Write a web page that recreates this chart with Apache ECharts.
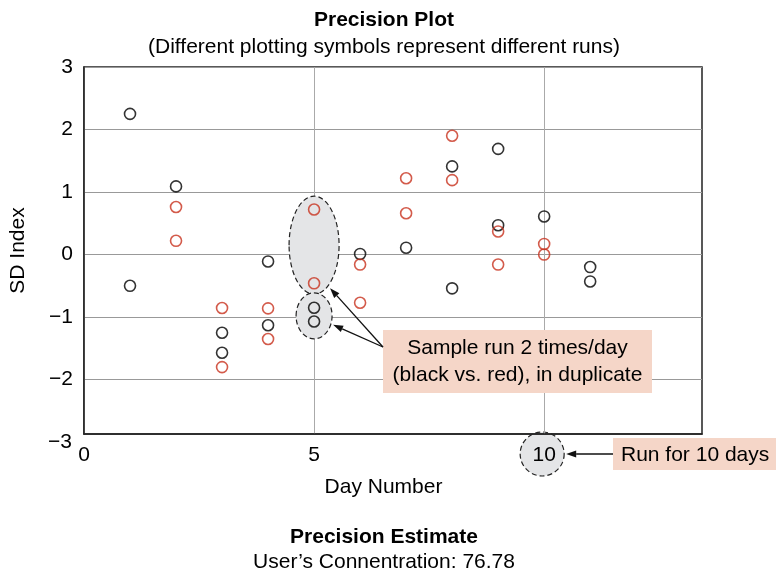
<!DOCTYPE html>
<html><head><meta charset="utf-8">
<script src="https://cdn.jsdelivr.net/npm/echarts@6/dist/echarts.min.js"></script>
<style>html,body{margin:0;padding:0;background:#fff}#c{width:776px;height:571px}</style>
</head><body><div id="c"></div>
<script>
// ---- data ----
const blackDays   = [1, 1, 2, 3, 3, 4, 4, 5, 5, 6, 7, 8, 8, 9, 9, 10, 11, 11];
const blackValues = [2.25, -0.50, 1.09, -1.25, -1.57, -0.11, -1.13, -0.85, -1.07, 0.01, 0.11, 1.41, -0.54, 1.69, 0.47, 0.61, -0.20, -0.43];
const redDays     = [2, 2, 3, 3, 4, 4, 5, 5, 6, 6, 7, 7, 8, 8, 9, 9, 10, 10];
const redValues   = [0.76, 0.22, -0.855, -1.80, -0.86, -1.35, 0.72, -0.46, -0.16, -0.77, 1.22, 0.66, 1.90, 1.19, 0.37, -0.16, 0.17, 0.00];
const yTickValues = [-2, -1, 0, 1, 2, 3];
const xTickValues = [0, 5, 10];
const titleText = 'Precision Plot';
const subtitleText = '(Different plotting symbols represent different runs)';
const footTitle = 'Precision Estimate';
const footText = 'User\u2019s Connentration: 76.78';

const FONT = '"Liberation Sans", Arial, Helvetica, sans-serif';
const FS = 21;
const TXT = '#000';
const CX = 379;
const chart = echarts.init(document.getElementById('c'), null, {renderer: 'canvas'});
const fmt = v => String(v).replace('-', '\u2212');

const option = {
  animation: false,
  backgroundColor: '#fff',
  textStyle: {fontFamily: FONT, color: TXT},
  title: [
    {text: titleText, left: CX, textAlign: 'center', top: 5, textStyle: {fontFamily: FONT, fontSize: FS, fontWeight: 'bold', color: TXT}},
    {text: subtitleText, left: CX, textAlign: 'center', top: 32, textStyle: {fontFamily: FONT, fontSize: FS, fontWeight: 'normal', color: TXT}},
    {text: footTitle, left: CX, textAlign: 'center', top: 522, textStyle: {fontFamily: FONT, fontSize: FS, fontWeight: 'bold', color: TXT}},
    {text: footText, left: CX, textAlign: 'center', top: 547, textStyle: {fontFamily: FONT, fontSize: FS, fontWeight: 'normal', color: TXT}}
  ],
  grid: {left: 83, right: 74, top: 67, bottom: 137, show: true, borderColor: '#222', borderWidth: 1.5, backgroundColor: 'transparent'},
  xAxis: {
    type: 'value', min: 0, max: 13.43,
    name: 'Day Number', nameLocation: 'middle', nameGap: 43,
    nameTextStyle: {fontFamily: FONT, fontSize: FS, color: TXT, padding: [0, 19, 0, 0]},
    axisLine: {show: true, onZero: false, lineStyle: {color: '#222', width: 1.5}},
    axisTick: {show: false, customValues: xTickValues},
    axisLabel: {customValues: xTickValues, fontFamily: FONT, fontSize: FS, color: TXT, margin: 11},
    splitLine: {show: true, lineStyle: {color: '#aaa', width: 1}}
  },
  yAxis: {
    type: 'value', min: -2.87, max: 3,
    name: 'SD Index', nameLocation: 'middle', nameGap: 55,
    nameTextStyle: {fontFamily: FONT, fontSize: FS, color: TXT},
    axisLine: {show: true, onZero: false, lineStyle: {color: '#222', width: 1.5}},
    axisTick: {show: false, customValues: yTickValues},
    axisLabel: {customValues: yTickValues, fontFamily: FONT, fontSize: FS, color: TXT, margin: 11, formatter: fmt},
    splitLine: {show: true, lineStyle: {color: '#999', width: 1}}
  },
  series: [
    {type: 'scatter', name: 'black', z: 5, symbol: 'circle', symbolSize: 11,
     itemStyle: {color: 'rgba(0,0,0,0)', borderColor: '#000', borderWidth: 1.6},
     data: blackDays.map((d, i) => [d, blackValues[i]])},
    {type: 'scatter', name: 'red', z: 5, symbol: 'circle', symbolSize: 11,
     itemStyle: {color: 'rgba(0,0,0,0)', borderColor: '#c8321e', borderWidth: 1.6},
     data: redDays.map((d, i) => [d, redValues[i]])}
  ]
};
chart.setOption(option);

// ---- annotations ----
function px(x, y) { return chart.convertToPixel({gridIndex: 0}, [x, y]); }
function arrow(x1, y1, x2, y2) {
  const ang = Math.atan2(y2 - y1, x2 - x1), L = 10, W = 3.5;
  const bx = x2 - L * Math.cos(ang), by = y2 - L * Math.sin(ang);
  const nx = -Math.sin(ang) * W, ny = Math.cos(ang) * W;
  return [
    {type: 'line', z: 20, shape: {x1, y1, x2: bx, y2: by}, style: {stroke: '#111', lineWidth: 1.3}},
    {type: 'polygon', z: 20, shape: {points: [[x2, y2], [bx + nx, by + ny], [bx - nx, by - ny]]}, style: {fill: '#111'}}
  ];
}
const big = px(5, 0.15), small = px(5, -0.98), ten = px(10, -2.87);
const ellStyle = {fill: '#e4e5e7', stroke: '#222', lineWidth: 1.2, lineDash: [5, 3]};
const boxX = 383, boxY = 330, boxW = 269, boxH = 63;
const F = FS + 'px ' + FONT;
const g = [
  {type: 'ellipse', z: 1, shape: {cx: big[0], cy: big[1], rx: 25, ry: 49}, style: ellStyle},
  {type: 'ellipse', z: 1, shape: {cx: small[0], cy: small[1], rx: 18, ry: 23}, style: ellStyle},
  {type: 'circle', z: -5, shape: {cx: ten[0] - 2, cy: ten[1] + 20, r: 22}, style: ellStyle},
  {type: 'rect', z: 15, shape: {x: boxX, y: boxY, width: boxW, height: boxH}, style: {fill: '#f5d6c8'}},
  {type: 'text', z: 16, style: {text: 'Sample run 2 times/day', x: boxX + boxW / 2, y: boxY + 18, textAlign: 'center', textVerticalAlign: 'middle', font: F, fill: TXT}},
  {type: 'text', z: 16, style: {text: '(black vs. red), in duplicate', x: boxX + boxW / 2, y: boxY + 45, textAlign: 'center', textVerticalAlign: 'middle', font: F, fill: TXT}},
  {type: 'rect', z: 15, shape: {x: 613, y: 438, width: 163, height: 32}, style: {fill: '#f5d6c8'}},
  {type: 'text', z: 16, style: {text: 'Run for 10 days', x: 621, y: 455, textAlign: 'left', textVerticalAlign: 'middle', font: F, fill: TXT}},
  {type: 'text', z: 16, style: {text: '\u22123', x: 72, y: 442, textAlign: 'right', textVerticalAlign: 'middle', font: F, fill: TXT}}
];
g.push(...arrow(boxX, boxY + 17, big[0] + 16, big[1] + 43));
g.push(...arrow(boxX, boxY + 17, small[0] + 19, small[1] + 9));
g.push(...arrow(613, ten[1] + 20, ten[0] + 22, ten[1] + 20));
chart.setOption({graphic: g});
</script>
</body></html>
